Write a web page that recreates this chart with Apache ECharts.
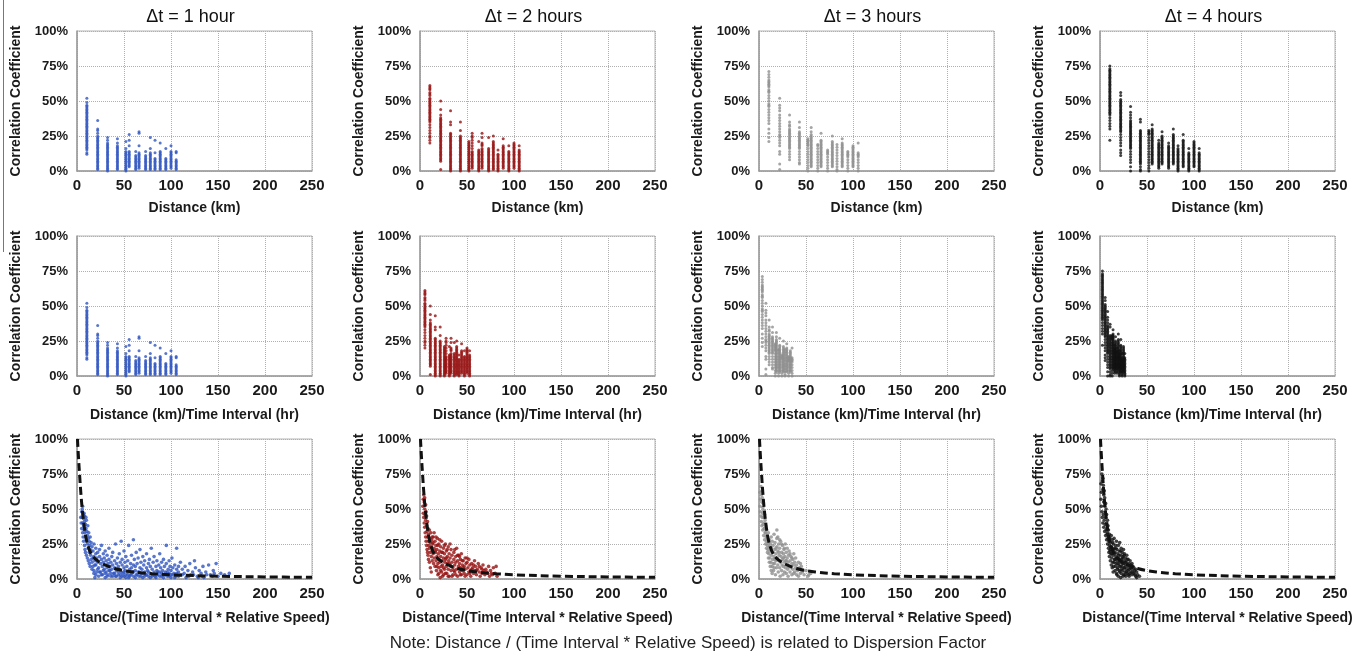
<!DOCTYPE html>
<html><head><meta charset="utf-8">
<script src="https://cdn.jsdelivr.net/npm/echarts@6/dist/echarts.min.js"></script>
<style>html,body{margin:0;padding:0;background:#fff}#c{width:1372px;height:659px}</style>
</head><body><div id="c"></div>
<script>
// ---------- DATA ----------
const panelTitles = ['Δt = 1 hour', 'Δt = 2 hours', 'Δt = 3 hours', 'Δt = 4 hours'];
const timeIntervals = [1, 2, 3, 4];
const xNames = ['Distance (km)', 'Distance (km)/Time Interval (hr)', 'Distance/(Time Interval * Relative Speed)'];
const yName = 'Correlation Coefficient';
const xTicks = [0, 50, 100, 150, 200, 250];
const yTicks = [0, 25, 50, 75, 100];
const noteText = 'Note: Distance / (Time Interval * Relative Speed) is related to Dispersion Factor';

// station-pair distances (km) – the vertical strips of the top row
const distancesKm = [10.5, 22, 32.5, 43, 52, 55.5, 62.5, 66, 73, 78, 83, 88.5, 94.5, 100, 105.5];

// correlation (%) per distance strip, one list per strip
const corr1h = [
  [52,49,47,46,45,44,43,42,41,40,39,38,37,36,35,34,33,32,31,30,29,28,27,26,25,24,23,22,21,20,19,18,17,16,15,13,12],
  [36,30,29,27,25,24,23,22,21,20,19,18,17,16,15,14,13,12,11,10,9,8,7,6,5,4,3,2,1],
  [24,22,20,19,18,17,16,15,14,13,12,11,10,9,8,7,6,5,4,3,2,1,0],
  [23,20,18,17,16,15,14,13,12,11,10,9,8,7,6,5,4,3,2,1],
  [21,16,14,13,12,11,10,9,8,7,6,5,4,3,2,1,0],
  [26,22,18,14,13,12,11,10,9,8,7,6,5,4,3],
  [14,11,10,9,8,7,6,5,4,3,2,1],
  [28,27,18,13,12,11,10,9,8,7,6,5,4,3,2],
  [14,11,10,9,8,7,6,5,4,3,2,1],
  [24,16,13,12,11,10,9,8,7,6,5,4,3,2,1],
  [22,13,9,8,7,6,5,4,3,2,1],
  [20,14,13,12,11,10,9,8,7,6,5,4,3,2,1],
  [16,9,8,7,6,5,4,3,2,1],
  [18,14,13,12,11,10,9,8,7,6,5,4,3,2],
  [14,13,8,7,6,5,4,3,2,1]
];
const corr2h = [
  [61,60,59,58,56,55,54,52,51,50,49,48,47,46,45,44,43,42,41,40,39,38,37,36,35,33,31,29,27,25,24,22,20],
  [50,44,40,38,37,36,35,34,33,32,31,30,29,28,27,26,25,24,23,22,21,20,19,18,17,16,15,14,13,12,11,10,9,8,7,1],
  [43,35,33,27,26,25,24,23,22,21,20,19,18,17,16,15,14,13,12,11,10,9,8,7,6,5,4,3,2,1,0],
  [35,29,25,24,23,22,21,20,19,18,17,16,15,14,13,12,11,10,9,8,7,6,5,4,3,2,1,0],
  [21,20,19,18,17,16,15,14,13,12,11,10,9,8,7,6,5,4,3,2,1,0],
  [27,25,24,22,20,18,16,14,13,12,11,10,9,8,7,6,5,4,3,2],
  [21,15,14,13,12,11,10,9,8,7,6,5,4,3,2,1,0],
  [27,24,20,19,18,16,15,14,13,12,11,10,9,8,7,6,5,4,3,2],
  [24,16,15,14,13,12,11,10,9,8,7,6,5,4,3,2,1,0],
  [25,21,20,19,18,17,16,15,14,13,12,11,10,9,8,7,6,5,4,3,2,1],
  [15,12,11,10,9,8,7,6,5,4,3,2,1,0],
  [23,18,17,16,15,14,13,12,11,10,9,8,7,6,5,4,3,2],
  [18,14,13,12,11,10,9,8,7,6,5,4,3,2,1,0],
  [20,19,18,17,16,15,14,13,12,11,10,9,8,7,6,5,4,3,2],
  [18,15,14,13,12,11,10,9,8,7,6,5,4,3,2,1,0]
];
const corr3h = [
  [71,69,67,65,64,63,62,61,60,58,57,56,54,52,50,48,47,46,44,42,40,38,36,34,30,27,24,21],
  [52,47,45,43,40,38,36,34,32,30,28,26,25,24,22,20,18,14,12,5,1],
  [40,35,33,32,30,29,28,27,26,25,24,23,22,21,20,19,18,17,16,14,12,10,8],
  [35,31,28,27,26,25,24,23,22,21,20,19,18,17,16,14,12,10,8,6,5],
  [23,22,21,20,19,18,16,14,12,10,8,6,4,2,0],
  [31,28,26,25,24,23,22,21,20,19,18,17,16,15,14,13,12,11,10,9,8,7,6,5,4,3],
  [19,18,16,14,12,10,8,6,4,2,0],
  [27,22,21,20,19,18,17,16,15,14,13,12,11,10,9,8,7,6,5,4,3],
  [15,14,13,12,10,8,6,4,2,0],
  [25,21,20,19,18,17,16,15,14,13,12,11,10,9,8,7,6,5,4,3],
  [19,17,15,13,11,9,7,5,3,1,0],
  [23,20,19,18,17,16,15,14,13,12,11,10,9,8,7,6,5,4,3],
  [14,13,12,11,10,8,6,4,2,0],
  [18,17,16,15,14,13,12,11,10,9,8,7,6,5,4,3],
  [20,13,12,11,10,8,6,4,2,0]
];
const corr4h = [
  [75,73,72,71,70,69,68,67,66,65,64,63,62,61,60,59,58,57,56,55,54,53,52,51,50,49,48,47,46,45,44,43,42,41,40,38,36,34,32,30,22],
  [56,54,51,50,49,48,47,46,45,44,43,42,41,40,39,38,37,36,35,34,33,32,31,30,29,28,26,24,22,20,18,15,13,11],
  [46,42,40,38,36,35,34,33,32,31,30,29,28,27,26,25,24,23,22,21,20,19,18,17,16,14,12,10,8,6,3,0],
  [37,35,29,28,27,26,25,24,23,22,21,20,19,18,17,16,15,14,13,12,11,10,9,8,7,6,5,3,1,0],
  [29,28,27,26,24,22,20,18,16,14,12,10,8,6,4,2,0],
  [33,30,29,28,27,26,25,24,23,22,21,20,19,18,17,16,15,14,13,12,11,10,9,8,7,6,5],
  [22,20,19,18,17,16,15,14,13,12,11,10,9,8,7,6,5,4,3,2],
  [28,25,24,23,22,21,20,19,18,17,16,15,14,13,12,11,10,9,8,7,6,5],
  [20,18,17,16,15,14,13,12,11,10,9,8,7,6,5,4,3,2],
  [30,26,25,24,23,22,21,20,19,18,17,16,15,14,13,12,11,10,9,8,7,6,5],
  [18,16,15,14,13,12,11,10,9,8,7,6,5,4,3,2,1,0],
  [26,22,21,20,19,18,17,16,15,14,13,12,11,10,9,8,7,6,5,4,3],
  [16,13,12,11,10,9,8,7,6,5,4,3,2,1,0],
  [21,20,19,18,17,16,15,14,13,12,11,10,9,8,7,6,5,4,3],
  [16,13,12,11,10,9,8,7,6,5,4,3,2,1,0]
];

// bottom row: [dispersion factor, correlation %]
const disp1h = [[5,48],[5.5,44],[6,52],[6,40],[6.5,46],[7,43],[7,38],[7.5,35],[8,45],[8,41],[8.5,33],[9,39],[9,30],[9.5,36],[10,42],[10,28],[10.5,34],[11,31],[11,25],[11.5,38],[12,29],[12,22],[12.5,33],[13,27],[13,19],[13.5,24],[14,30],[14,21],[14.5,17],[15,26],[15,14],
[16,23],[16,12],[17,20],[17,9],[18,25],[18,16],[18,6],[19,13],[19,1],[20,22],[20,18],[20,10],[21,15],[21,5],[22,19],[22,12],[23,8],[23,2],[24,16],[24,21],[25,11],[25,5],[26,14],[26,24],[27,9],[27,3],[28,18],[28,12],[29,7],[29,15],[30,20],[30,10],[30,1],[31,13],[31,5],[32,17],[32,8],[33,11],[33,3],[34,22],[34,14],[35,6],[35,9],[36,12],[36,2],[37,16],[37,7],[38,19],[38,10],[39,4],[40,13],[40,8],[41,25],[41,2],
[42,11],[42,6],[43,15],[44,9],[44,3],[45,18],[45,7],[46,12],[46,1],[47,27],[47,5],[48,10],[48,14],[49,4],[50,8],[50,20],[50,2],[51,12],[51,6],[52,3],[52,16],[53,9],[54,5],[54,13],[55,1],[55,24],[56,7],[57,11],[57,3],[58,17],[58,8],[59,5],[60,28],[60,10],[60,2],[61,14],[62,6],[62,9],[63,3],[63,19],[64,11],[65,5],[65,15],[66,2],[67,8],[67,21],[68,12],[68,4],[69,7],[70,16],[70,1],[71,10],[72,5],[72,13],[73,3],[74,8],[74,18],[75,6],[76,11],[76,2],[77,14],[78,4],[78,9],[79,22],[80,7],[80,3],[81,12],[82,5],[82,16],[83,2],[84,9],[85,6],[85,13],[86,3],[87,10],[88,5],[88,18],[89,8],[90,2],[90,12],[91,6],[92,14],[92,3],[93,9],[94,5],[95,24],[95,11],[96,2],[97,7],[98,4],[98,13],[99,9],[100,3],[100,6],[101,15],[102,8],[103,4],[104,10],[105,2],[106,22],[106,7],[108,5],[108,9],[110,3],[110,12],
[112,7],[114,4],[115,9],[117,2],[118,6],[120,11],[121,3],[123,5],[125,13],[126,8],[128,2],[130,6],[132,4],[134,9],[135,1],[137,5],[140,10],[142,3],[145,6],[148,11],[150,2],[153,4],[157,3],[162,4],
[4,44],[4.5,40],[5,36],[5.5,50],[6,33],[6.5,30],[7,27],[7.5,47],[8,24],[8.5,21],[9,19],[9.5,44],[10,17],[11,15],[12,13],[13,11],[14,9],[15,20],[16,7],[17,15],[18,4],[19,10],[20,3],[22,7],[24,5],[26,3],[28,6],[30,4],[32,2],[34,6],[36,4],[38,2],[40,4],[42,2],[44,5],[46,3],[48,2],[50,5],[52,1],[54,3],[56,2],[58,4],[60,5],[62,1],[64,3],[66,5],[68,2],[70,4],[72,2],[74,3],[76,5],[78,1],[80,2],[82,3],[84,1],[86,5],[88,2],[90,4],[92,1],[94,3],[96,5],[98,2],[100,1],[102,3],[104,1],[106,4],[108,2],[112,3],[116,1],[119,2],[124,3],[129,1],[133,2],[138,3],[144,2],[146,4]];
const disp2h = [[4,60],[4.5,55],[5,58],[5,50],[5.5,46],[6,53],[6,42],[6.5,48],[7,38],[7,45],[7.5,34],[8,41],[8,30],[8.5,36],[9,27],[9,32],[9.5,24],[10,35],[10,22],[10.5,29],[11,19],[11,26],[11.5,33],[12,23],[12,16],[12.5,28],[13,20],[13,13],[13.5,25],[14,18],[14,30],[14.5,11],[15,22],[15,15],
[16,27],[16,9],[16.5,19],[17,24],[17,13],[17.5,6],[18,21],[18,16],[18.5,29],[19,11],[19,3],[19.5,18],[20,25],[20,14],[20,8],[21,20],[21,12],[21.5,1],[22,23],[22,16],[22.5,9],[23,27],[23,5],[23.5,13],[24,19],[24,10],[25,22],[25,15],[25,3],[26,18],[26,7],[26.5,12],[27,25],[27,14],[28,9],[28,20],[28.5,4],[29,16],[29,11],[30,23],[30,7],[30.5,13],[31,18],[31,2],[32,10],[32,15],[33,21],[33,6],[34,12],[34,17],[35,8],[35,3],[36,14],[36,19],[37,10],[37,5],[38,16],[38,12],[39,7],[39,22],[40,13],[40,2],[41,9],[41,17],[42,5],[42,11],[43,14],[43,8],[44,3],[44,18],[45,10],[45,6],[46,13],[47,4],[47,9],[48,15],[48,7],[49,11],[50,3],[50,12],[51,8],[52,5],[52,14],[53,10],[54,6],[54,2],[55,11],[56,8],[57,4],[58,13],[58,6],[59,9],[60,3],[61,7],[62,11],[63,5],[64,2],[65,8],[66,4],[67,10],[68,6],[69,3],[70,7],[72,4],[73,9],[74,2],[75,6],[77,3],[78,8],[80,4],[81,9],[82,2],
[3,52],[3.5,57],[3.5,47],[4,44],[4.5,40],[5,37],[5.5,33],[6,30],[6.5,27],[7,24],[7.5,21],[8,19],[8.5,17],[9,14],[10,12],[11,8],[12,5],[13,30],[14,26],[15,33],[16,20],[17,30],[18,9],[19,24],[20,4],[21,28],[22,6],[23,19],[24,2],[25,8],[26,24],[27,4],[28,15],[29,21],[30,2],[31,11],[32,25],[33,9],[34,2],[36,6],[37,21],[38,3],[40,17],[42,16],[43,3],[45,13],[46,8],[48,2],[50,15],[53,4],[55,7],[57,10],[60,6],[63,9],[66,7],[71,5],[76,4]];
const disp3h = [[2,66],[2.5,60],[3,63],[3,55],[3.5,58],[4,51],[4,47],[4.5,54],[5,44],[5,49],[5.5,40],[6,46],[6,36],[6.5,42],[7,33],[7,38],[7.5,30],[8,35],[8,27],[8.5,31],[9,24],[9,29],[9.5,21],[10,26],[10,33],[10.5,18],[11,23],[11,28],[11.5,15],[12,20],[12,25],[12.5,12],[13,30],[13,17],[13.5,22],[14,9],[14,27],[14.5,14],[15,19],[15,24],[15.5,6],[16,16],[16,32],[16.5,11],[17,21],[17,26],[17.5,3],[18,13],[18,18],[18.5,8],[19,23],[19,29],[19.5,15],[20,10],[20,20],[20.5,5],[21,25],[21,13],[21.5,17],[22,8],[22,22],[22.5,2],[23,12],[23,27],[23.5,16],[24,6],[24,19],[24.5,10],[25,24],[25,14],[25.5,3],[26,18],[26,9],[26.5,21],[27,12],[27,5],[27.5,16],[28,25],[28,8],[28.5,13],[29,19],[29,4],[29.5,10],[30,15],[30,22],[30.5,7],[31,12],[31,2],[31.5,17],[32,9],[32,20],[33,5],[33,13],[34,16],[34,8],[35,11],[35,3],[36,14],[36,7],[37,10],[37,18],[38,5],[38,12],[39,8],[39,15],[40,3],[40,10],[41,6],[42,12],[42,2],[43,8],[44,4],[45,9],[46,5],[48,3],[50,6],[52,2],[55,4],
[1,62],[1.5,57],[1,52],[1.5,48],[2,45],[2.5,41],[3,38],[3.5,44],[4,35],[4.5,39],[5,31],[5.5,36],[6,28],[6.5,33],[7,25],[8,22],[9,19],[10,15],[11,12],[12,9],[13,6],[14,4],[15,11],[16,8],[17,14],[18,22],[19,35],[20,30],[21,19],[22,28],[24,25],[26,15],[27,22],[29,13],[31,9],[33,18],[35,15],[37,4],[40,7],[44,11],[47,6],[53,3]];
const disp4h = [[2,75],[2.5,70],[3,72],[3,64],[3.5,67],[4,60],[4,55],[4.5,63],[5,52],[5,58],[5.5,48],[6,54],[6,44],[6.5,50],[7,40],[7,46],[7.5,36],[8,42],[8,33],[8.5,38],[9,30],[9,35],[9.5,27],[10,32],[10,24],[10.5,29],[11,21],[11,26],[11.5,18],[12,31],[12,23],[12.5,15],[13,28],[13,20],[13.5,12],[14,25],[14,17],[14.5,9],[15,22],[15,29],[15.5,14],[16,19],[16,6],[16.5,24],[17,11],[17,16],[17.5,27],[18,21],[18,3],[18.5,13],[19,18],[19,8],[19.5,24],[20,15],[20,10],[20.5,20],[21,5],[21,26],[21.5,12],[22,17],[22,1],[22.5,22],[23,9],[23,14],[23.5,19],[24,6],[24,11],[24.5,16],[25,3],[25,21],[25.5,8],[26,13],[26,18],[26.5,5],[27,10],[27,15],[27.5,2],[28,12],[28,7],[28.5,17],[29,4],[29,9],[30,14],[30,6],[31,11],[31,2],[32,8],[32,13],[33,5],[33,10],[34,3],[34,7],[35,9],[36,4],[37,6],[38,2],[39,5],[40,3],[42,2],
[1,68],[1.5,62],[1,57],[1.5,52],[2,48],[2.5,44],[3,40],[3.5,46],[4,37],[4.5,42],[5,34],[5.5,39],[6,31],[6.5,35],[7,28],[7.5,32],[8,25],[8.5,29],[9,22],[9.5,19],[10,16],[10.5,20],[11,13],[11.5,23],[12,10],[12.5,18],[13,8],[13.5,26],[14,5],[14.5,21],[15,12],[15.5,18],[16,14],[16.5,9],[17,22],[17.5,4],[18,15],[18.5,7],[19,11],[19.5,2],[20,17],[20.5,6],[21,13],[21.5,9],[22,20],[22.5,4],[23,7],[23.5,12],[24,15],[24.5,2],[25,11],[25.5,17],[26,8],[26.5,3],[27,12],[28,5],[29,14],[30,10],[30.5,3],[31,7],[32,4],[33,8],[34,11],[35,5],[36,8],[37,3],[38,7],[39,1]];

// fitted decay curve
const curveX = [0.5, 1.5, 3, 4.5, 6, 8, 10, 13, 17, 22, 30, 40, 50, 60, 80, 100, 150, 200, 250];
const curveY = [100, 88, 72, 58, 47, 36, 28, 21, 16, 13, 10, 7.5, 6, 5, 3.8, 3, 2, 1.5, 1.2];

const panelColors = ['#2f55c0', '#961212', '#8f8f8f', '#111111'];

// ---------- LAYOUT ----------
const corrByPanel = [corr1h, corr2h, corr3h, corr4h];
const dispByPanel = [disp1h, disp2h, disp3h, disp4h];
const gridLefts = [77, 420, 759, 1100];
const gridTops = [31, 236, 439];
const GW = 235, GH = 140;
const FONT = '"Liberation Sans", Arial, sans-serif';

const grids = [], xAxes = [], yAxes = [], series = [], graphics = [];
let gi = 0;
for (let r = 0; r < 3; r++) {
  for (let c = 0; c < 4; c++) {
    grids.push({ left: gridLefts[c], top: gridTops[r], width: GW, height: GH, show: true, borderColor: '#b4b4b4', borderWidth: 1, backgroundColor: 'transparent' });
    xAxes.push({
      gridIndex: gi, type: 'value', min: xTicks[0], max: xTicks[xTicks.length - 1], interval: xTicks[1] - xTicks[0],
      name: xNames[r], nameLocation: 'middle', nameGap: r === 0 ? 30 : 32,
      nameTextStyle: { fontFamily: FONT, fontWeight: 'bold', fontSize: 14, color: '#1a1a1a' },
      axisLine: { show: true, onZero: false, lineStyle: { color: '#9a9a9a', width: 1.5 } },
      axisTick: { show: false },
      axisLabel: { fontFamily: FONT, fontWeight: 'bold', fontSize: 15, color: '#1a1a1a', margin: 7 },
      splitLine: { show: true, lineStyle: { type: 'dotted', color: '#b0b0b0', width: 1 } }
    });
    yAxes.push({
      gridIndex: gi, type: 'value', min: yTicks[0], max: yTicks[yTicks.length - 1], interval: yTicks[1] - yTicks[0],
      name: yName, nameLocation: 'middle', nameGap: 54, nameRotate: 90,
      nameTextStyle: { fontFamily: FONT, fontWeight: 'bold', fontSize: 14, color: '#1a1a1a' },
      axisLine: { show: true, onZero: false, lineStyle: { color: '#9a9a9a', width: 1.5 } },
      axisTick: { show: false },
      axisLabel: { fontFamily: FONT, fontWeight: 'bold', fontSize: 13, color: '#1a1a1a', margin: 9, formatter: '{value}%' },
      splitLine: { show: true, lineStyle: { type: 'dotted', color: '#b0b0b0', width: 1 } }
    });
    let pts = [];
    if (r < 2) {
      const dt = r === 0 ? 1 : timeIntervals[c];
      corrByPanel[c].forEach((strip, i) => strip.forEach(v => pts.push([distancesKm[i] / dt, v])));
    } else {
      pts = dispByPanel[c];
    }
    series.push({
      type: 'scatter', xAxisIndex: gi, yAxisIndex: gi, data: pts, symbol: 'circle', symbolSize: r === 2 ? 3.6 : 3,
      itemStyle: { color: panelColors[c] }, silent: true, animation: false, z: 2
    });
    if (r === 2) {
      series.push({
        type: 'line', xAxisIndex: gi, yAxisIndex: gi, data: curveX.map((x, k) => [x, curveY[k]]),
        smooth: 0.35, showSymbol: false, lineStyle: { color: '#111', width: 3, type: [8, 4] }, silent: true, animation: false, z: 5
      });
    }
    gi++;
  }
}
for (let c = 0; c < 4; c++) {
  graphics.push({ type: 'text', x: gridLefts[c] + GW / 2 - 4, y: 17,
    style: { text: panelTitles[c], fill: '#111', font: '18px ' + FONT, align: 'center', verticalAlign: 'middle' } });
}
graphics.push({ type: 'text', x: 688, y: 643,
  style: { text: noteText, fill: '#222', font: '17px ' + FONT, align: 'center', verticalAlign: 'middle' } });
graphics.push({ type: 'line', shape: { x1: 3.5, y1: 0, x2: 3.5, y2: 252 }, style: { stroke: '#777', lineWidth: 1 } });

const chart = echarts.init(document.getElementById('c'), null, { renderer: 'canvas' });
chart.setOption({ backgroundColor: '#fff', animation: false, grid: grids, xAxis: xAxes, yAxis: yAxes, series: series, graphic: graphics });
</script>
</body></html>
